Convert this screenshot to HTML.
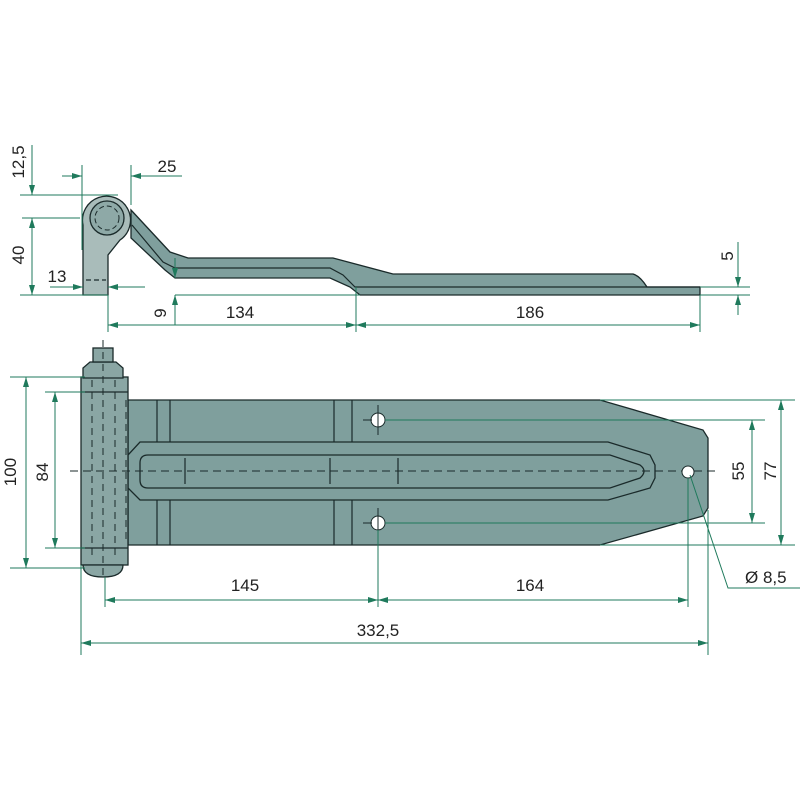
<!DOCTYPE html>
<html><head><style>body{margin:0;background:#fff}svg{display:block}</style></head><body>
<svg width="800" height="800" viewBox="0 0 800 800" xmlns="http://www.w3.org/2000/svg" font-family="Liberation Sans, sans-serif">
<defs>
<marker id="a" viewBox="0 0 10 6" refX="10" refY="3" markerWidth="10" markerHeight="6" orient="auto-start-reverse" markerUnits="userSpaceOnUse"><path d="M0,0L10,3L0,6z" fill="#1f7a5c"/></marker>
</defs>
<g fill="#7f9f9d" stroke="#1a2a2a" stroke-width="1.3">
<path d="M131,210 L170,252 L188,258 L333,258 L393,274 L633,274 Q640,276 647,287 L700,287 L700,295 L360,295 L350,287 L330,278 L175,278 L165,270 L131,238 Z"/>
<path d="M83,295 L83,225 A24,24 0 1 1 120,240 L108,255 L108,295 Z" fill="#a9bcba"/>
<circle cx="107" cy="218" r="17" fill="#8ea9a7"/>
<path d="M128,400 L600,400 L703,430 L708,438 L708,508 L703,516 L600,545 L128,545 Z"/>
<path d="M140,442 L608,442 L650,455 L655,465 L655,478 L650,488 L608,500 L140,500 L128,488 L128,455 Z" fill="#7f9f9d"/>
<path d="M148,455 L610,455 L640,465 Q648,471 640,478 L610,488 L148,488 Q140,488 140,480 L140,463 Q140,455 148,455 Z" fill="#7f9f9d"/>
<rect x="81" y="377" width="47" height="188" fill="#8aa6a4"/>
<path d="M83,565 L123,565 Q123,577 103,577 Q83,577 83,565 Z" fill="#8aa6a4"/>
<path d="M83,378 L83,368 L90,362 L116,362 L123,368 L123,378 Z" fill="#8aa6a4"/>
<rect x="93" y="348" width="20" height="14" fill="#8aa6a4"/>
</g>
<g stroke="#1a2a2a" stroke-width="1.2" fill="none">
<line x1="157" y1="400" x2="157" y2="442"/><line x1="170" y1="400" x2="170" y2="442"/>
<line x1="157" y1="500" x2="157" y2="545"/><line x1="170" y1="500" x2="170" y2="545"/>
<line x1="334" y1="400" x2="334" y2="442"/><line x1="352" y1="400" x2="352" y2="442"/>
<line x1="334" y1="500" x2="334" y2="545"/><line x1="352" y1="500" x2="352" y2="545"/>
<line x1="81" y1="392" x2="128" y2="392"/><line x1="81" y1="548" x2="128" y2="548"/>
<path d="M132,225 L163,262 L175,268 L330,268 L343,275 L355,287 L700,287"/>
<path d="M92,380 V560 M103,340 V580 M115,380 V560 M126,400 V540" stroke-dasharray="7,5" stroke-width="1"/>
<circle cx="107" cy="218" r="12" stroke-dasharray="5,3" stroke-width="1"/>
<line x1="86" y1="280" x2="106" y2="280" stroke-dasharray="5,3"/>
<line x1="70" y1="471" x2="720" y2="471" stroke-dasharray="8,5" stroke-width="1.1"/>
<line x1="185" y1="458" x2="185" y2="484"/><line x1="330" y1="458" x2="330" y2="484"/><line x1="398" y1="458" x2="398" y2="484"/>
</g>
<g fill="#fff" stroke="#1a2a2a" stroke-width="1">
<circle cx="378" cy="420" r="7"/><circle cx="378" cy="523" r="7"/><circle cx="688" cy="472" r="6"/>
</g>
<g stroke="#1a2a2a" stroke-width="1">
<line x1="378" y1="405" x2="378" y2="435"/><line x1="363" y1="420" x2="372" y2="420"/>
<line x1="378" y1="508" x2="378" y2="530"/><line x1="363" y1="523" x2="372" y2="523"/>
</g>
<g stroke="#1f7a5c" stroke-width="1" fill="none">
<line x1="32" y1="145" x2="32" y2="195" marker-end="url(#a)"/>
<line x1="32" y1="218" x2="32" y2="295" marker-start="url(#a)" marker-end="url(#a)"/>
<line x1="20" y1="195" x2="118" y2="195"/><line x1="22" y1="218" x2="80" y2="218"/><line x1="20" y1="295" x2="108" y2="295"/>
<line x1="62" y1="176" x2="82" y2="176" marker-end="url(#a)"/><line x1="182" y1="176" x2="131" y2="176" marker-end="url(#a)"/>
<line x1="82" y1="165" x2="82" y2="250"/><line x1="131" y1="165" x2="131" y2="205"/>
<line x1="50" y1="287" x2="83" y2="287" marker-end="url(#a)"/><line x1="145" y1="287" x2="108" y2="287" marker-end="url(#a)"/>
<line x1="175" y1="325" x2="175" y2="295" marker-end="url(#a)"/><line x1="175" y1="258" x2="175" y2="278" marker-end="url(#a)"/>
<line x1="175" y1="295" x2="360" y2="295"/>
<line x1="108" y1="325" x2="356" y2="325" marker-start="url(#a)" marker-end="url(#a)"/>
<line x1="356" y1="325" x2="700" y2="325" marker-start="url(#a)" marker-end="url(#a)"/>
<line x1="108" y1="295" x2="108" y2="332"/><line x1="356" y1="287" x2="356" y2="332"/><line x1="700" y1="295" x2="700" y2="332"/>
<line x1="738" y1="242" x2="738" y2="287" marker-end="url(#a)"/><line x1="738" y1="315" x2="738" y2="295" marker-end="url(#a)"/>
<line x1="700" y1="287" x2="750" y2="287"/><line x1="700" y1="295" x2="750" y2="295"/>
<line x1="26" y1="377" x2="26" y2="568" marker-start="url(#a)" marker-end="url(#a)"/>
<line x1="10" y1="377" x2="85" y2="377"/><line x1="10" y1="568" x2="85" y2="568"/>
<line x1="55" y1="392" x2="55" y2="548" marker-start="url(#a)" marker-end="url(#a)"/>
<line x1="45" y1="392" x2="85" y2="392"/><line x1="45" y1="548" x2="85" y2="548"/>
<line x1="105" y1="600" x2="378" y2="600" marker-start="url(#a)" marker-end="url(#a)"/>
<line x1="378" y1="600" x2="688" y2="600" marker-start="url(#a)" marker-end="url(#a)"/>
<line x1="81" y1="643" x2="708" y2="643" marker-start="url(#a)" marker-end="url(#a)"/>
<line x1="81" y1="565" x2="81" y2="655"/><line x1="708" y1="510" x2="708" y2="655"/>
<line x1="378" y1="530" x2="378" y2="607"/><line x1="688" y1="478" x2="688" y2="607"/><line x1="105" y1="577" x2="105" y2="607"/>
<line x1="752" y1="420" x2="752" y2="523" marker-start="url(#a)" marker-end="url(#a)"/>
<line x1="385" y1="420" x2="765" y2="420"/><line x1="385" y1="523" x2="765" y2="523"/>
<line x1="781" y1="400" x2="781" y2="545" marker-start="url(#a)" marker-end="url(#a)"/>
<line x1="600" y1="400" x2="795" y2="400"/><line x1="600" y1="545" x2="795" y2="545"/>
<polyline points="690,475 728,588 800,588"/>
</g>
<g fill="#222" font-size="17">
<text x="240" y="318" text-anchor="middle">134</text>
<text x="530" y="318" text-anchor="middle">186</text>
<text x="167" y="172" text-anchor="middle">25</text>
<text x="57" y="282" text-anchor="middle">13</text>
<text transform="translate(24,162) rotate(-90)" text-anchor="middle">12,5</text>
<text transform="translate(24,255) rotate(-90)" text-anchor="middle">40</text>
<text transform="translate(166,313) rotate(-90)" text-anchor="middle">9</text>
<text transform="translate(733,256) rotate(-90)" text-anchor="middle">5</text>
<text transform="translate(16,472) rotate(-90)" text-anchor="middle">100</text>
<text transform="translate(48,472) rotate(-90)" text-anchor="middle">84</text>
<text transform="translate(744,471) rotate(-90)" text-anchor="middle">55</text>
<text transform="translate(776,471) rotate(-90)" text-anchor="middle">77</text>
<text x="245" y="591" text-anchor="middle">145</text>
<text x="530" y="591" text-anchor="middle">164</text>
<text x="378" y="636" text-anchor="middle">332,5</text>
<text x="745" y="583">Ø 8,5</text>
</g>
</svg>
</body></html>
